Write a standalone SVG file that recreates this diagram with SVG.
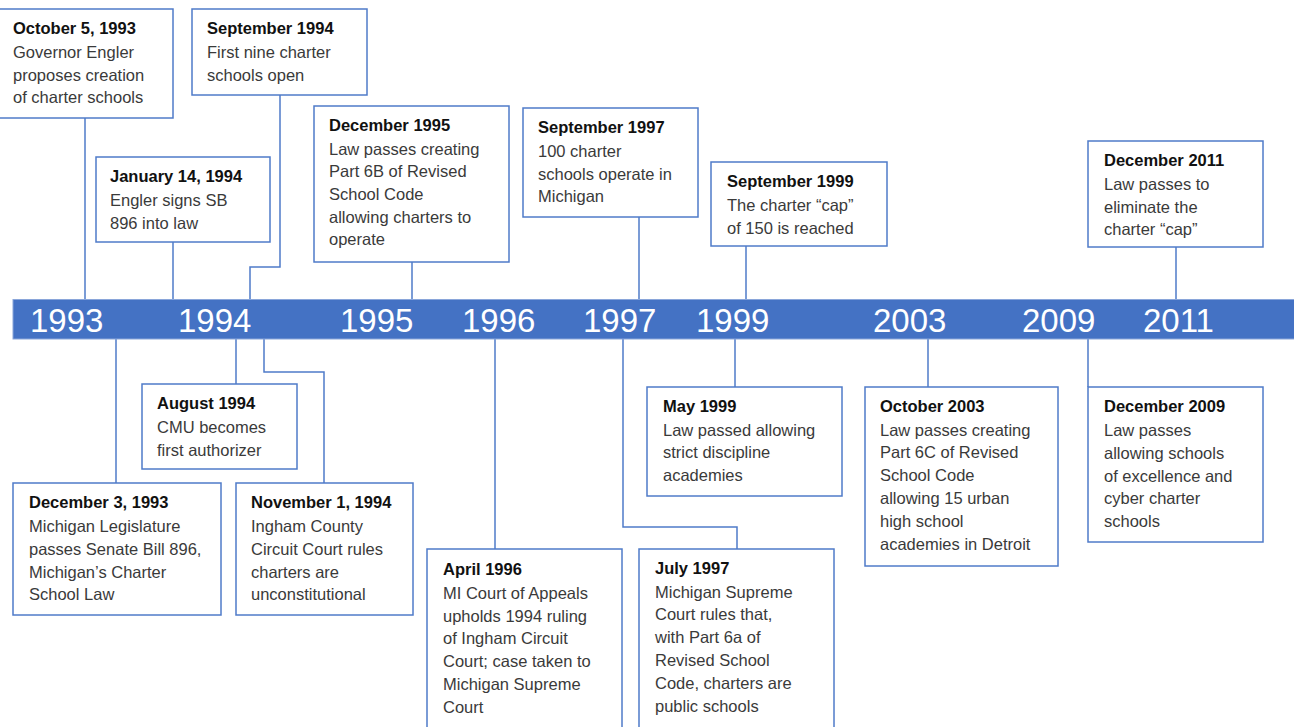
<svg xmlns="http://www.w3.org/2000/svg" width="1294" height="727" viewBox="0 0 1294 727">
<style>
.box{fill:#fff;stroke:#4f7bc9;stroke-width:1.5}
.con{fill:none;stroke:#4f7bc9;stroke-width:1.5}
.t{font-family:"Liberation Sans",Arial,sans-serif;font-size:16.5px;fill:#3a3a3a}
.h{font-weight:bold;fill:#111}
.yr{font-family:"Liberation Sans",Arial,sans-serif;font-size:33px;fill:#fff}
</style>
<rect width="1294" height="727" fill="#fff"/>
<g id="connectors">
<path class="con" d="M85 118V299"/>
<path class="con" d="M280 95V267H250V299"/>
<path class="con" d="M173 242V299"/>
<path class="con" d="M412 262V299"/>
<path class="con" d="M639 217V299"/>
<path class="con" d="M746 246V299"/>
<path class="con" d="M1176 247V299"/>
<path class="con" d="M116 339V483"/>
<path class="con" d="M236 339V384"/>
<path class="con" d="M264 339V372H324V483"/>
<path class="con" d="M495 339V549"/>
<path class="con" d="M623 339V527H737V549"/>
<path class="con" d="M735 339V387"/>
<path class="con" d="M928 339V387"/>
<path class="con" d="M1088 339V387"/>
</g>
<g id="timeline">
<rect x="13" y="299.5" width="1290" height="39.5" fill="#4472c4" stroke="#8aa6da" stroke-width="1"/>
<text class="yr" x="30" y="332">1993</text>
<text class="yr" x="178" y="332">1994</text>
<text class="yr" x="340" y="332">1995</text>
<text class="yr" x="462" y="332">1996</text>
<text class="yr" x="583" y="332">1997</text>
<text class="yr" x="696" y="332">1999</text>
<text class="yr" x="873" y="332">2003</text>
<text class="yr" x="1022" y="332">2009</text>
<text class="yr" x="1143" y="332">2011</text>
</g>
<g id="oct1993">
<rect class="box" x="-1" y="9" width="174" height="109"/>
<text class="t"><tspan class="h" x="13" y="34">October 5, 1993</tspan><tspan x="13" y="58">Governor Engler</tspan><tspan x="13" y="81">proposes creation</tspan><tspan x="13" y="103">of charter schools</tspan></text>
</g>
<g id="sep1994">
<rect class="box" x="192" y="9" width="175" height="86"/>
<text class="t"><tspan class="h" x="207" y="34">September 1994</tspan><tspan x="207" y="58">First nine charter</tspan><tspan x="207" y="81">schools open</tspan></text>
</g>
<g id="jan1994">
<rect class="box" x="96" y="157" width="174" height="85"/>
<text class="t"><tspan class="h" x="110" y="182">January 14, 1994</tspan><tspan x="110" y="206">Engler signs SB</tspan><tspan x="110" y="229">896 into law</tspan></text>
</g>
<g id="dec1995">
<rect class="box" x="314" y="106" width="195" height="156"/>
<text class="t"><tspan class="h" x="329" y="131">December 1995</tspan><tspan x="329" y="155">Law passes creating</tspan><tspan x="329" y="177">Part 6B of Revised</tspan><tspan x="329" y="200">School Code</tspan><tspan x="329" y="223">allowing charters to</tspan><tspan x="329" y="245">operate</tspan></text>
</g>
<g id="sep1997">
<rect class="box" x="523" y="108" width="175" height="109"/>
<text class="t"><tspan class="h" x="538" y="133">September 1997</tspan><tspan x="538" y="157">100 charter</tspan><tspan x="538" y="180">schools operate in</tspan><tspan x="538" y="202">Michigan</tspan></text>
</g>
<g id="sep1999">
<rect class="box" x="711" y="162" width="176" height="84"/>
<text class="t"><tspan class="h" x="727" y="187">September 1999</tspan><tspan x="727" y="211">The charter “cap”</tspan><tspan x="727" y="234">of 150 is reached</tspan></text>
</g>
<g id="dec2011">
<rect class="box" x="1088" y="141" width="175" height="106"/>
<text class="t"><tspan class="h" x="1104" y="166">December 2011</tspan><tspan x="1104" y="190">Law passes to</tspan><tspan x="1104" y="213">eliminate the</tspan><tspan x="1104" y="235">charter “cap”</tspan></text>
</g>
<g id="dec1993">
<rect class="box" x="13" y="483" width="208" height="132"/>
<text class="t"><tspan class="h" x="29" y="508">December 3, 1993</tspan><tspan x="29" y="532">Michigan Legislature</tspan><tspan x="29" y="555">passes Senate Bill 896,</tspan><tspan x="29" y="578">Michigan’s Charter</tspan><tspan x="29" y="600">School Law</tspan></text>
</g>
<g id="aug1994">
<rect class="box" x="142" y="384" width="155" height="85"/>
<text class="t"><tspan class="h" x="157" y="409">August 1994</tspan><tspan x="157" y="433">CMU becomes</tspan><tspan x="157" y="456">first authorizer</tspan></text>
</g>
<g id="nov1994">
<rect class="box" x="236" y="483" width="177" height="132"/>
<text class="t"><tspan class="h" x="251" y="508">November 1, 1994</tspan><tspan x="251" y="532">Ingham County</tspan><tspan x="251" y="555">Circuit Court rules</tspan><tspan x="251" y="578">charters are</tspan><tspan x="251" y="600">unconstitutional</tspan></text>
</g>
<g id="apr1996">
<rect class="box" x="427" y="549" width="195" height="190"/>
<text class="t"><tspan class="h" x="443" y="575">April 1996</tspan><tspan x="443" y="599">MI Court of Appeals</tspan><tspan x="443" y="622">upholds 1994 ruling</tspan><tspan x="443" y="644">of Ingham Circuit</tspan><tspan x="443" y="667">Court; case taken to</tspan><tspan x="443" y="690">Michigan Supreme</tspan><tspan x="443" y="713">Court</tspan></text>
</g>
<g id="jul1997">
<rect class="box" x="639" y="549" width="195" height="190"/>
<text class="t"><tspan class="h" x="655" y="574">July 1997</tspan><tspan x="655" y="598">Michigan Supreme</tspan><tspan x="655" y="620">Court rules that,</tspan><tspan x="655" y="643">with Part 6a of</tspan><tspan x="655" y="666">Revised School</tspan><tspan x="655" y="689">Code, charters are</tspan><tspan x="655" y="712">public schools</tspan></text>
</g>
<g id="may1999">
<rect class="box" x="647" y="387" width="195" height="109"/>
<text class="t"><tspan class="h" x="663" y="412">May 1999</tspan><tspan x="663" y="436">Law passed allowing</tspan><tspan x="663" y="458">strict discipline</tspan><tspan x="663" y="481">academies</tspan></text>
</g>
<g id="oct2003">
<rect class="box" x="865" y="387" width="193" height="179"/>
<text class="t"><tspan class="h" x="880" y="412">October 2003</tspan><tspan x="880" y="436">Law passes creating</tspan><tspan x="880" y="458">Part 6C of Revised</tspan><tspan x="880" y="481">School Code</tspan><tspan x="880" y="504">allowing 15 urban</tspan><tspan x="880" y="527">high school</tspan><tspan x="880" y="550">academies in Detroit</tspan></text>
</g>
<g id="dec2009">
<rect class="box" x="1088" y="387" width="175" height="155"/>
<text class="t"><tspan class="h" x="1104" y="412">December 2009</tspan><tspan x="1104" y="436">Law passes</tspan><tspan x="1104" y="459">allowing schools</tspan><tspan x="1104" y="482">of excellence and</tspan><tspan x="1104" y="504">cyber charter</tspan><tspan x="1104" y="527">schools</tspan></text>
</g>
</svg>
